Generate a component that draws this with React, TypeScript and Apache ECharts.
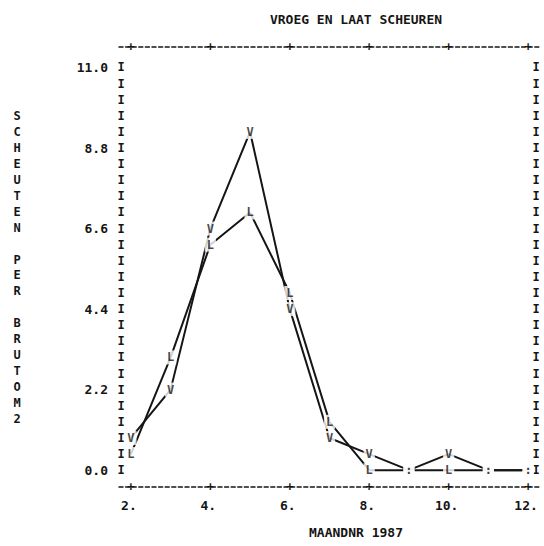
import React, { useEffect, useRef } from "react";
import * as echarts from "echarts";

// ---- data ----
const months = [2, 3, 4, 5, 6, 7, 8, 9, 10, 11, 12];
const vroeg = [0.88, 2.2, 6.6, 9.24, 4.4, 0.88, 0.44, 0, 0.44, 0, 0];
const laat = [0.44, 3.08, 6.16, 7.04, 4.84, 1.32, 0, 0, 0, 0, 0];

const xTickValues = [2, 4, 6, 8, 10, 12];
const xTickLabels = ["2.", "4.", "6.", "8.", "10.", "12."];
const yTickValues = [0, 2.2, 4.4, 6.6, 8.8, 11];
const yTickLabels = ["0.0", "2.2", "4.4", "6.6", "8.8", "11.0"];

const titleText = "VROEG EN LAAT SCHEUREN";
const xTitle = "MAANDNR 1987";
const yTitleWords = ["SCHEUTEN", "PER", "BRUTOM2"];

// printer rows: 5 rows between labelled ticks
const rowStep = 2.2 / 5;
const rowValues = Array.from({ length: 26 }, (_, i) => +(i * rowStep).toFixed(2));

const FONT = "'DejaVu Sans Mono', 'Liberation Mono', monospace";
const INK = "#151515";
const XMIN = 1.7;
const XMAX = 12.3;
const YMIN = -0.46;
const YMAX = 11.56;

const nearestLabel = (v: number, vals: number[], labels: string[]) => {
  let best = 0;
  for (let i = 1; i < vals.length; i++) {
    if (Math.abs(vals[i] - v) < Math.abs(vals[best] - v)) best = i;
  }
  return labels[best];
};

export default function App() {
  const ref = useRef<HTMLDivElement>(null);
  useEffect(() => {
    if (!ref.current) return;
    document.body.style.margin = "0";
    const chart = echarts.init(ref.current, null, { renderer: "svg" });
    const txt = {
      fontFamily: FONT,
      fontSize: 12,
      fontWeight: "bold" as const,
      color: INK,
      textBorderWidth: 0,
    };
    const big = { ...txt, fontSize: 13 };
    const dashed = {
      show: true,
      onZero: false,
      lineStyle: { color: INK, width: 1.5, type: [4, 2.6] as any },
    };
    const plainX = {
      type: "value" as const,
      min: XMIN,
      max: XMAX,
      splitLine: { show: false },
      axisTick: { show: false },
    };
    const plainY = {
      type: "value" as const,
      min: YMIN,
      max: YMAX,
      splitLine: { show: false },
      axisTick: { show: false },
      axisLine: { show: false, onZero: false },
    };
    const yTitle = yTitleWords.map((w) => w.split("").join("\n")).join("\n\n");
    chart.setOption({
      animation: false,
      backgroundColor: "#ffffff",
      title: [
        {
          text: titleText,
          left: 351,
          top: 8,
          textAlign: "center",
          textStyle: { ...big },
        },
        {
          text: xTitle,
          left: 351,
          top: 521,
          textAlign: "center",
          textStyle: { ...big },
        },
        {
          text: yTitle,
          left: 12,
          top: 103,
          textAlign: "center",
          textStyle: { ...txt, lineHeight: 15.95 },
        },
      ],
      grid: { left: 119, right: 4, top: 47, bottom: 59 },
      xAxis: [
        {
          ...plainX,
          position: "bottom",
          axisLine: dashed,
          axisLabel: {
            ...big,
            customValues: xTickValues,
            formatter: (v: number) => nearestLabel(v, xTickValues, xTickLabels),
            margin: 12,
            align: "center",
            padding: [0, 4, 0, 0],
          },
        },
        {
          ...plainX,
          position: "bottom",
          axisLine: { show: false, onZero: false },
          axisLabel: {
            ...txt,
            customValues: xTickValues,
            formatter: () => "+",
            margin: 0,
            verticalAlign: "middle",
            align: "center",
          },
        },
        {
          ...plainX,
          position: "top",
          axisLine: dashed,
          axisLabel: {
            ...txt,
            customValues: xTickValues,
            formatter: () => "+",
            margin: 0,
            verticalAlign: "middle",
            align: "center",
          },
        },
      ],
      yAxis: [
        {
          ...plainY,
          position: "left",
          axisLabel: {
            ...big,
            customValues: yTickValues,
            formatter: (v: number) => nearestLabel(v, yTickValues, yTickLabels),
            margin: 11,
          },
        },
        {
          ...plainY,
          position: "left",
          axisLabel: {
            ...txt,
            customValues: rowValues,
            formatter: () => "I",
            margin: -2,
            align: "center",
          },
        },
        {
          ...plainY,
          position: "right",
          axisLabel: {
            ...txt,
            customValues: rowValues,
            formatter: () => "I",
            margin: -4,
            align: "center",
          },
        },
      ],
      series: [
        {
          name: "V",
          type: "line",
          z: 2,
          data: months.map((m, i) => [m, vroeg[i]]),
          showSymbol: false,
          lineStyle: { color: INK, width: 2 },
          itemStyle: { color: INK },
        },
        {
          name: "L",
          type: "line",
          z: 2,
          data: months.map((m, i) => [m, laat[i]]),
          showSymbol: false,
          lineStyle: { color: INK, width: 2 },
          itemStyle: { color: INK },
        },
        {
          name: "V-letters",
          type: "scatter",
          z: 5,
          data: months.map((m, i) => [m, vroeg[i]]),
          symbolSize: 1,
          itemStyle: { color: "#ffffff" },
          label: {
            show: true,
            position: "inside",
            ...txt,
            backgroundColor: "#ffffff",
            padding: [1, 2],
            formatter: (p: any) =>
              vroeg[p.dataIndex] === laat[p.dataIndex] ? ":" : "V",
          },
        },
        {
          name: "L-letters",
          type: "scatter",
          z: 4,
          data: months.map((m, i) => [m, laat[i]]),
          symbolSize: 1,
          itemStyle: { color: "#ffffff" },
          label: {
            show: true,
            position: "inside",
            ...txt,
            backgroundColor: "#ffffff",
            padding: [1, 2],
            formatter: (p: any) =>
              vroeg[p.dataIndex] === laat[p.dataIndex] ? ":" : "L",
          },
        },
      ],
    });
    return () => chart.dispose();
  }, []);
  return <div ref={ref} style={{ width: 544, height: 546 }} />;
}
